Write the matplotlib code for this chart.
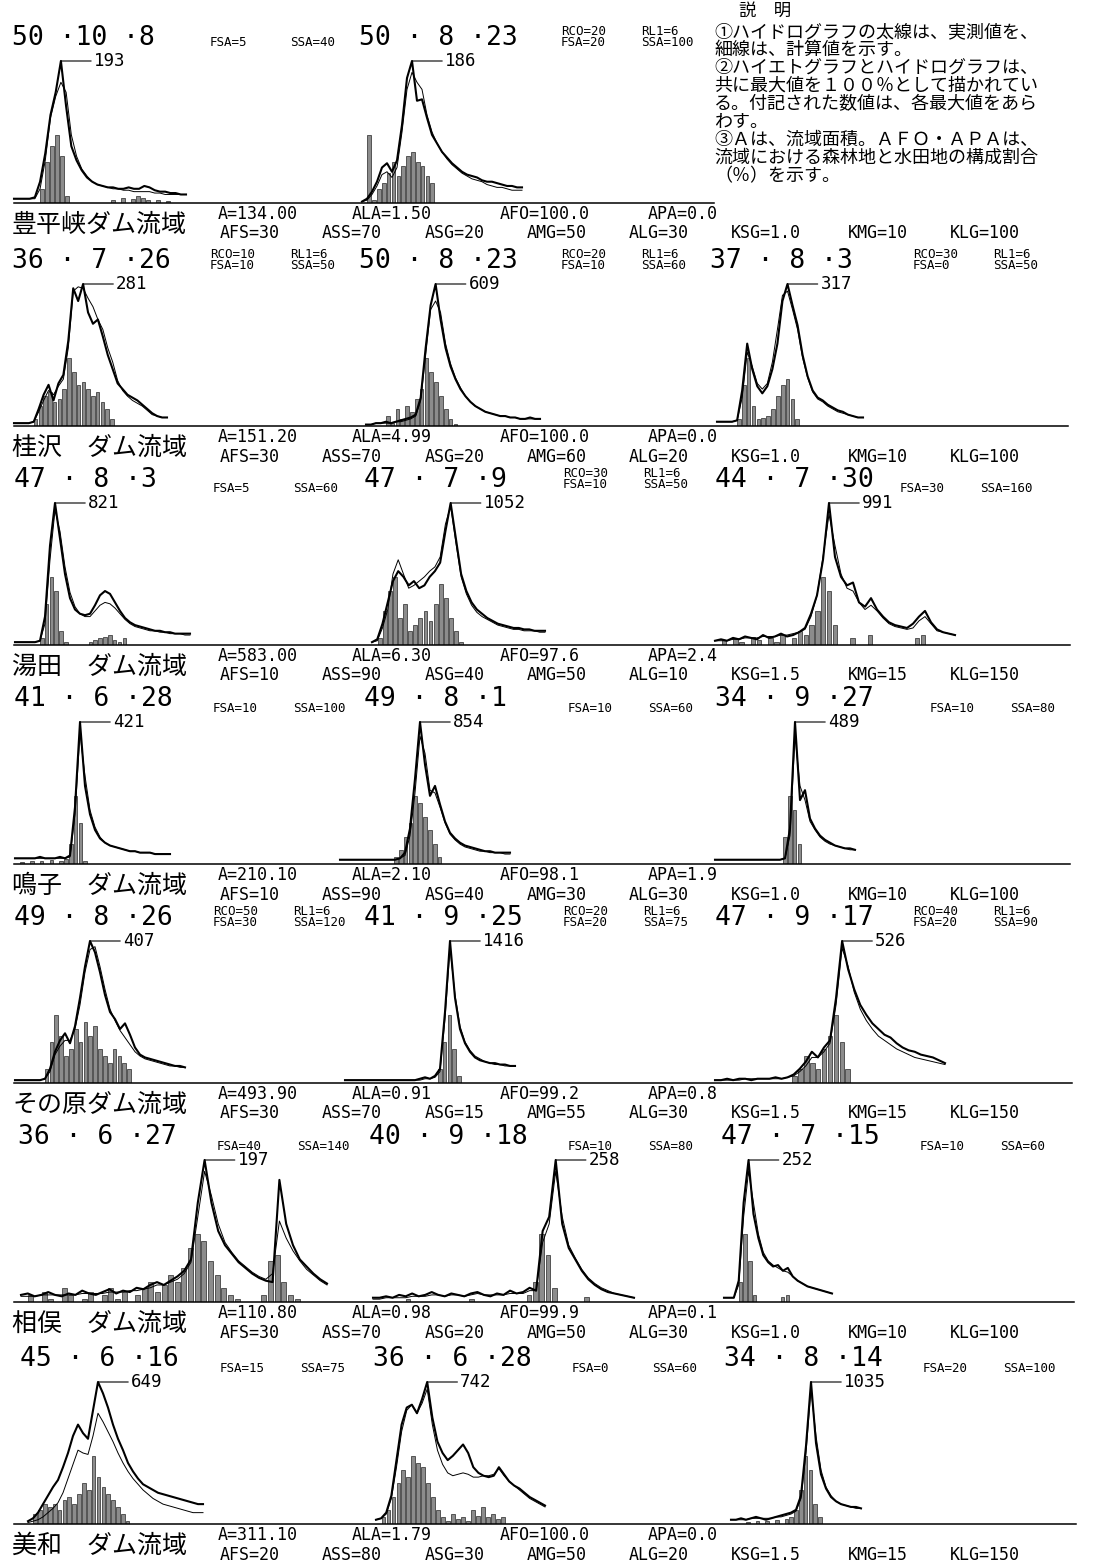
import numpy as np
import matplotlib
matplotlib.use("Agg")
import matplotlib.pyplot as plt
from matplotlib.lines import Line2D

# ------------------------------------------------------------------ data
basins = ["豊平峡ダム流域", "桂沢　ダム流域", "湯田　ダム流域", "鳴子　ダム流域",
          "その原ダム流域", "相俣　ダム流域", "美和　ダム流域"]

area_params = [
    ["A=134.00", "ALA=1.50", "AFO=100.0", "APA=0.0"],
    ["A=151.20", "ALA=4.99", "AFO=100.0", "APA=0.0"],
    ["A=583.00", "ALA=6.30", "AFO=97.6", "APA=2.4"],
    ["A=210.10", "ALA=2.10", "AFO=98.1", "APA=1.9"],
    ["A=493.90", "ALA=0.91", "AFO=99.2", "APA=0.8"],
    ["A=110.80", "ALA=0.98", "AFO=99.9", "APA=0.1"],
    ["A=311.10", "ALA=1.79", "AFO=100.0", "APA=0.0"],
]
model_params = [
    "AFS=30 ASS=70 ASG=20 AMG=50 ALG=30 KSG=1.0 KMG=10 KLG=100",
    "AFS=30 ASS=70 ASG=20 AMG=60 ALG=20 KSG=1.0 KMG=10 KLG=100",
    "AFS=10 ASS=90 ASG=40 AMG=50 ALG=10 KSG=1.5 KMG=15 KLG=150",
    "AFS=10 ASS=90 ASG=40 AMG=30 ALG=30 KSG=1.0 KMG=10 KLG=100",
    "AFS=30 ASS=70 ASG=15 AMG=55 ALG=30 KSG=1.5 KMG=15 KLG=150",
    "AFS=30 ASS=70 ASG=20 AMG=50 ALG=30 KSG=1.0 KMG=10 KLG=100",
    "AFS=20 ASS=80 ASG=30 AMG=50 ALG=20 KSG=1.5 KMG=15 KLG=150",
]

explanation_title = "説　明"
explanation = [
    "①ハイドログラフの太線は、実測値を、",
    "細線は、計算値を示す。",
    "②ハイエトグラフとハイドログラフは、",
    "共に最大値を１００％として描かれてい",
    "る。付記された数値は、各最大値をあら",
    "わす。",
    "③Ａは、流域面積。ＡＦＯ・ＡＰＡは、",
    "流域における森林地と水田地の構成割合",
    "（％）を示す。",
]

# per storm: date, parameter note, peak discharge (m3/s)
dates = [["50 ·10 ·8", "50 · 8 ·23"],
         ["36 · 7 ·26", "50 · 8 ·23", "37 · 8 ·3"],
         ["47 · 8 ·3", "47 · 7 ·9", "44 · 7 ·30"],
         ["41 · 6 ·28", "49 · 8 ·1", "34 · 9 ·27"],
         ["49 · 8 ·26", "41 · 9 ·25", "47 · 9 ·17"],
         ["36 · 6 ·27", "40 · 9 ·18", "47 · 7 ·15"],
         ["45 · 6 ·16", "36 · 6 ·28", "34 · 8 ·14"]]
notes = [[["FSA=5", "SSA=40"], ["RCO=20", "RL1=6", "FSA=20", "SSA=100"]],
         [["RCO=10", "RL1=6", "FSA=10", "SSA=50"], ["RCO=20", "RL1=6", "FSA=10", "SSA=60"],
          ["RCO=30", "RL1=6", "FSA=0", "SSA=50"]],
         [["FSA=5", "SSA=60"], ["RCO=30", "RL1=6", "FSA=10", "SSA=50"], ["FSA=30", "SSA=160"]],
         [["FSA=10", "SSA=100"], ["FSA=10", "SSA=60"], ["FSA=10", "SSA=80"]],
         [["RCO=50", "RL1=6", "FSA=30", "SSA=120"], ["RCO=20", "RL1=6", "FSA=20", "SSA=75"],
          ["RCO=40", "RL1=6", "FSA=20", "SSA=90"]],
         [["FSA=40", "SSA=140"], ["FSA=10", "SSA=80"], ["FSA=10", "SSA=60"]],
         [["FSA=15", "SSA=75"], ["FSA=0", "SSA=60"], ["FSA=20", "SSA=100"]]]
peaks = [[193, 186],
         [281, 609, 317],
         [821, 1052, 991],
         [421, 854, 489],
         [407, 1416, 526],
         [197, 258, 252],
         [649, 742, 1035]]

# hydrographs (% of observed peak) and hyetographs (% of max rainfall)
obs_1a = [3,3,3,3,4,15,35,62,78,100,68,40,30,23,18,15,13,12,11,11,10,10,11,10,10,12,11,9,8,8,7,7,6,6]
com_1a = [3,3,3,3,3,10,30,60,75,85,78,48,33,24,19,15,13,12,11,10,10,9,9,8,8,8,8,7,7,6,6,6,6,6]
rain_1a = [0,0,0,0,0,20,60,85,100,70,10,0,0,0,0,0,0,0,0,5,0,8,0,6,10,8,5,0,4,0,3,0,0,0]

obs_1b = [1,3,8,15,25,28,22,30,55,88,100,72,73,60,48,42,36,32,28,25,22,20,19,18,16,15,15,14,13,12,12,11,11]
com_1b = [1,2,6,12,20,22,18,25,50,80,92,85,80,62,50,42,36,31,27,24,21,19,17,16,15,13,12,11,11,10,9,9,9]
rain_1b = [0,100,5,20,30,45,60,40,55,70,75,60,55,40,30,0,0,0,0,0,0,0,0,0,0,0,0,0,0,0,0,0,0]

obs_2a = [2,2,2,2,3,12,22,29,18,30,36,60,97,88,100,80,72,75,63,50,40,30,26,22,20,18,15,12,9,7,6,6]
com_2a = [2,2,2,2,3,10,18,25,22,28,33,55,95,98,97,90,84,75,68,55,45,32,25,21,18,16,14,11,8,7,6,6]
rain_2a = [0,0,0,0,10,30,45,50,35,40,55,100,80,60,65,55,45,50,35,25,10,0,0,0,0,0,0,0,0,0,0,0]

obs_2b = [1,1,2,2,3,2,3,4,5,6,8,20,55,85,100,75,55,42,33,26,21,17,14,12,10,9,8,7,7,6,6,5,5,6,5,5]
com_2b = [1,1,2,2,2,2,3,3,4,5,7,18,50,82,88,80,58,44,34,27,21,17,14,12,10,9,8,7,7,6,6,5,5,5,5,5]
rain_2b = [0,0,0,0,15,5,25,10,30,20,40,55,100,80,65,45,25,10,3,0,0,0,0,0,0,0,0,0,0,0,0,0,0,0,0,0]

obs_2c = [3,3,3,3,4,25,58,40,28,23,28,40,58,88,100,85,71,50,35,25,20,18,15,13,11,10,8,7,6,6]
com_2c = [3,3,3,3,4,20,52,42,30,26,30,45,68,92,95,82,68,48,34,24,19,17,14,12,10,9,8,7,6,6]
rain_2c = [0,0,0,0,10,60,100,30,10,12,15,25,45,60,70,40,10,0,0,0,0,0,0,0,0,0,0,0,0,0]

obs_3a = [2,2,2,2,2,3,20,70,100,75,50,33,25,22,21,22,28,35,38,36,30,24,19,16,14,13,12,11,10,10,9,9,8,8,8,8]
com_3a = [2,2,2,2,2,3,15,60,95,80,55,37,27,22,20,20,24,28,30,29,26,22,18,15,13,12,11,10,10,9,9,8,8,8,7,7]
rain_3a = [0,0,0,0,0,10,60,100,80,20,5,0,0,0,0,5,8,10,12,15,8,5,10,0,0,0,0,0,0,0,0,0,0,0,0,0]

obs_3b = [2,4,15,30,45,52,48,42,45,40,42,48,52,58,80,100,75,50,38,30,25,22,19,17,15,14,13,12,12,11,11,10,10,10]
com_3b = [2,3,12,25,50,60,50,40,42,45,48,52,55,62,85,98,72,48,36,28,23,20,18,16,14,13,12,11,11,10,10,10,9,9]
rain_3b = [0,10,50,80,100,40,60,20,30,40,50,35,60,90,70,40,20,5,0,0,0,0,0,0,0,0,0,0,0,0,0,0,0,0]

obs_3c = [3,4,3,5,4,6,5,4,7,5,6,8,6,7,9,12,22,35,60,100,62,48,42,44,30,27,33,25,20,16,14,13,12,15,20,24,16,11,9,8,7]
com_3c = [3,3,3,4,4,5,5,5,6,6,6,7,7,8,9,11,20,35,62,92,70,50,40,38,30,25,28,24,19,15,13,12,11,12,17,20,15,10,9,8,7]
rain_3c = [0,8,0,10,5,0,12,8,0,10,5,15,0,10,20,15,30,50,100,80,30,0,0,10,0,0,15,0,0,0,0,0,0,0,10,15,0,0,0,0,0]

obs_4a = [4,4,4,4,4,5,4,4,4,5,4,6,40,100,55,35,24,18,15,13,12,11,10,9,9,8,8,8,7,7,7,7]
com_4a = [4,4,4,4,4,4,4,4,4,4,4,5,35,92,62,38,26,19,15,13,12,11,10,9,9,8,8,8,7,7,7,7]
rain_4a = [0,3,0,5,0,4,0,6,0,5,8,30,100,60,5,0,0,0,0,0,0,0,0,0,0,0,0,0,0,0,0,0]

obs_4b = [3,3,3,3,3,3,3,3,3,3,3,3,4,8,25,60,100,70,48,55,42,30,22,18,15,13,12,11,10,9,9,8,8,8,8]
com_4b = [3,3,3,3,3,3,3,3,3,3,3,3,4,6,20,50,90,78,52,50,40,29,21,17,14,12,11,10,9,9,8,8,8,7,7]
rain_4b = [0,0,0,0,0,0,0,0,0,0,0,10,20,40,60,100,90,70,50,30,10,0,0,0,0,0,0,0,0,0,0,0,0,0,0]

obs_4c = [3,3,3,3,3,3,3,3,3,3,3,3,3,3,4,25,100,45,52,32,25,20,17,15,13,12,11,11,10]
com_4c = [3,3,3,3,3,3,3,3,3,3,3,3,3,3,4,20,90,55,45,30,24,19,16,14,13,12,11,10,10]
rain_4c = [0,0,0,0,0,0,0,0,0,0,0,0,0,0,40,100,80,30,0,0,0,0,0,0,0,0,0,0,0]

obs_5a = [2,2,2,2,2,2,3,10,22,30,35,28,40,60,82,100,92,78,62,50,45,38,42,34,25,20,18,17,16,15,14,13,12,12,11]
com_5a = [2,2,2,2,2,2,3,8,20,26,30,30,38,55,78,94,96,82,66,52,44,37,32,27,22,19,17,16,15,14,13,12,12,11,11]
rain_5a = [0,0,0,0,0,0,20,60,100,70,40,50,80,60,90,70,85,50,40,30,50,40,30,20,0,0,0,0,0,0,0,0,0,0,0]

obs_5b = [2,2,2,2,2,2,2,2,2,2,2,2,2,2,2,3,4,3,5,10,50,100,60,38,28,22,18,16,15,14,14,13,13,12,12]
com_5b = [2,2,2,2,2,2,2,2,2,2,2,2,2,2,2,2,3,3,4,8,45,95,62,40,29,23,19,17,15,14,13,13,12,12,12]
rain_5b = [0,0,0,0,0,0,0,0,0,0,0,0,0,0,0,0,0,0,0,20,60,100,50,10,0,0,0,0,0,0,0,0,0,0,0]

obs_5c = [2,2,3,2,3,3,2,3,3,3,4,3,4,6,10,15,22,18,25,30,60,100,80,66,55,48,42,38,34,32,28,25,23,22,20,19,18,16,14]
com_5c = [2,2,2,2,2,3,3,3,3,3,3,3,4,5,8,12,18,18,22,28,55,95,82,64,52,44,38,33,30,27,24,22,20,18,17,16,15,14,13]
rain_5c = [0,0,0,0,0,0,0,0,0,0,0,0,0,10,20,40,30,20,50,70,100,60,20,0,0,0,0,0,0,0,0,0,0,0,0,0,0,0,0]

obs_6a = [5,6,4,5,7,5,4,6,5,8,6,5,7,9,6,8,7,10,9,12,14,12,15,18,22,30,70,100,70,50,40,34,28,24,20,17,15,14,86,55,40,30,25,20,16,13]
com_6a = [4,4,4,5,5,5,5,5,5,6,6,6,6,7,7,7,8,8,9,10,12,12,14,16,20,28,60,92,75,55,42,35,29,25,21,18,16,20,57,45,36,29,23,19,15,12]
rain_6a = [0,10,0,15,5,0,20,10,0,5,15,0,10,20,5,15,0,10,20,30,15,25,40,30,50,80,100,90,60,40,20,10,5,0,0,0,10,60,70,30,10,5,0,0,0,0]

obs_6b = [3,3,4,3,5,4,6,4,5,7,5,4,6,5,4,6,7,5,4,6,5,8,6,7,10,8,50,60,100,55,38,30,22,16,12,9,7,6,5,4,3]
com_6b = [2,2,3,3,3,3,4,4,4,5,5,4,5,5,4,5,6,5,5,5,5,6,6,6,8,8,42,55,92,60,40,31,23,17,13,10,8,6,5,4,3]
rain_6b = [0,0,0,0,0,5,0,0,0,0,0,0,0,0,0,5,0,0,0,0,0,0,0,0,10,30,100,70,20,0,0,0,0,8,0,0,0,0,0,0,0]

obs_6c = [3,3,3,15,70,100,62,45,33,28,25,26,22,24,18,15,13,11,10,9,8,7,6]
com_6c = [3,3,3,12,60,92,70,48,35,29,26,24,22,21,18,15,13,11,10,9,8,7,6]
rain_6c = [0,0,0,30,100,60,10,0,0,0,0,0,8,10,0,0,0,0,0,0,0,0,0]

obs_7a = [2,4,8,14,20,26,31,40,50,62,70,64,60,80,100,92,82,70,60,52,43,37,32,28,26,24,22,21,20,19,18,17,16,15,14,14]
com_7a = [1,2,3,5,8,11,15,22,32,42,52,50,49,62,78,72,65,58,50,43,37,32,28,24,21,18,16,14,13,12,11,10,9,8,8,8]
rain_7a = [0,15,20,30,25,30,20,35,40,30,45,60,50,100,70,55,45,35,25,15,5,0,0,0,0,0,0,0,0,0,0,0,0,0,0,0]

obs_7b = [3,4,8,20,45,70,82,84,78,88,100,75,58,50,45,48,52,56,50,40,36,34,33,34,40,35,30,27,25,22,19,17,15,13]
com_7b = [3,4,7,18,40,65,80,84,78,85,95,70,52,42,36,34,35,36,35,33,33,34,34,35,39,34,30,27,24,21,18,16,14,12]
rain_7b = [0,10,20,40,60,80,70,100,90,85,60,40,20,10,5,15,8,10,5,20,12,25,10,15,8,10,0,0,0,0,0,0,0,0]

obs_7c = [3,3,4,3,4,5,4,3,4,5,6,7,8,10,20,55,100,57,35,25,19,16,14,13,12,12,11]
com_7c = [3,3,3,3,4,4,4,4,4,5,5,6,7,9,18,50,95,62,38,26,20,16,14,13,12,11,11]
rain_7c = [0,0,0,3,0,5,0,4,0,6,0,8,10,20,50,100,80,30,10,0,0,0,0,0,0,0,0]

series = [
    [(obs_1a, com_1a, rain_1a), (obs_1b, com_1b, rain_1b)],
    [(obs_2a, com_2a, rain_2a), (obs_2b, com_2b, rain_2b), (obs_2c, com_2c, rain_2c)],
    [(obs_3a, com_3a, rain_3a), (obs_3b, com_3b, rain_3b), (obs_3c, com_3c, rain_3c)],
    [(obs_4a, com_4a, rain_4a), (obs_4b, com_4b, rain_4b), (obs_4c, com_4c, rain_4c)],
    [(obs_5a, com_5a, rain_5a), (obs_5b, com_5b, rain_5b), (obs_5c, com_5c, rain_5c)],
    [(obs_6a, com_6a, rain_6a), (obs_6b, com_6b, rain_6b), (obs_6c, com_6c, rain_6c)],
    [(obs_7a, com_7a, rain_7a), (obs_7b, com_7b, rain_7b), (obs_7c, com_7c, rain_7c)],
]

# ------------------------------------------------------------------ layout (pixels)
W, H, DPI = 1114, 1562, 100
BASE = [203, 426, 645, 864, 1083, 1302, 1524]
LINE_END = [714, 1068, 1070, 1070, 1072, 1074, 1076]
SPANS = [[(14, 186), (362, 522)],
         [(14, 167), (366, 540), (717, 863)],
         [(15, 190), (372, 545), (715, 955)],
         [(15, 170), (340, 510), (715, 855)],
         [(15, 185), (345, 515), (715, 945)],
         [(21, 327), (373, 634), (724, 832)],
         [(28, 203), (376, 545), (731, 861)]]
DATE_X = [[12, 359], [12, 359, 710], [14, 364, 715], [14, 364, 715],
          [14, 364, 715], [18, 369, 721], [20, 373, 724]]
NOTE_X = [[210, 561], [210, 561, 913], [213, 563, 900], [213, 568, 930],
          [213, 563, 913], [217, 568, 920], [220, 572, 923]]
NOTE_DX = 80
AREA_X = [218, 352, 500, 648]
MODEL_X0, MODEL_PITCH = 220, 14.6
HPK = 142

MONO = "DejaVu Sans Mono"
CJK = ["Noto Sans CJK JP", "DejaVu Sans"]

fig = plt.figure(figsize=(W / DPI, H / DPI), dpi=DPI)
fig.patch.set_facecolor("white")


def fx(x):
    return x / W


def fy(y):
    return 1 - y / H


def ftext(x, y, s, size, family=MONO, **kw):
    kw.setdefault("ha", "left")
    kw.setdefault("va", "center")
    return fig.text(fx(x), fy(y), s, fontsize=size, family=family,
                    color="black", **kw)


for r in range(7):
    b = BASE[r]
    # baseline
    fig.add_artist(Line2D([fx(14), fx(LINE_END[r])], [fy(b), fy(b)],
                          color="black", lw=1.1))
    # basin name and parameters
    ftext(12, b + 22, basins[r], 18, family=CJK)
    for px, s in zip(AREA_X, area_params[r]):
        ftext(px, b + 11, s, 12)
    line = model_params[r]
    pos = 0
    for tok in line.split(" "):
        idx = line.index(tok, pos)
        pos = idx + len(tok)
        ftext(MODEL_X0 + idx * MODEL_PITCH, b + 30.5, tok, 12)

    for c, (obs, com, rain) in enumerate(series[r]):
        x0, x1 = SPANS[r][c]
        rect = [fx(x0), fy(b), (x1 - x0) / W, HPK / H]
        # hyetograph
        axr = fig.add_axes(rect)
        axr.axis("off")
        n = len(rain)
        xr = (np.arange(n) + 0.5) / n
        axr.bar(xr, rain, width=0.75 / n, color="0.55", edgecolor="black",
                linewidth=0.4)
        axr.set_xlim(0, 1)
        axr.set_ylim(0, 210)
        # hydrograph
        ax = fig.add_axes(rect)
        ax.axis("off")
        ax.patch.set_alpha(0)
        xo = np.linspace(0, 1, len(obs))
        xc = np.linspace(0, 1, len(com))
        ax.plot(xc, com, color="black", lw=0.7, clip_on=False)
        ax.plot(xo, obs, color="black", lw=1.5, clip_on=False)
        ax.set_xlim(0, 1)
        ax.set_ylim(0, 100)
        k = int(np.argmax(obs))
        ax.annotate(str(peaks[r][c]), xy=(xo[k], obs[k]),
                    xytext=(33 * 0.72, 0), textcoords="offset points",
                    ha="left", va="center", fontsize=12.5, family=MONO,
                    arrowprops=dict(arrowstyle="-", lw=0.8, color="black",
                                    shrinkA=0, shrinkB=0, relpos=(0, 0.5)))
        # date and parameter note above the panel
        yd = b - 165
        ftext(DATE_X[r][c], yd, dates[r][c], 19)
        nt = notes[r][c]
        nx = NOTE_X[r][c]
        if len(nt) == 4:
            ftext(nx, yd - 1, nt[0] + "\n" + nt[2], 9, linespacing=0.8)
            ftext(nx + NOTE_DX, yd - 1, nt[1] + "\n" + nt[3], 9, linespacing=0.8)
        else:
            yy = yd + 4 if r == 0 else yd + 9
            ftext(nx, yy, nt[0], 9)
            ftext(nx + NOTE_DX, yy, nt[1], 9)

# explanation block
ftext(765, 11, explanation_title, 12.5, family=CJK, ha="center")
ftext(714, 23, "\n".join(explanation), 13, family=CJK, va="top",
      linespacing=1.0)

fig.savefig("out.png", dpi=DPI, facecolor="white")
